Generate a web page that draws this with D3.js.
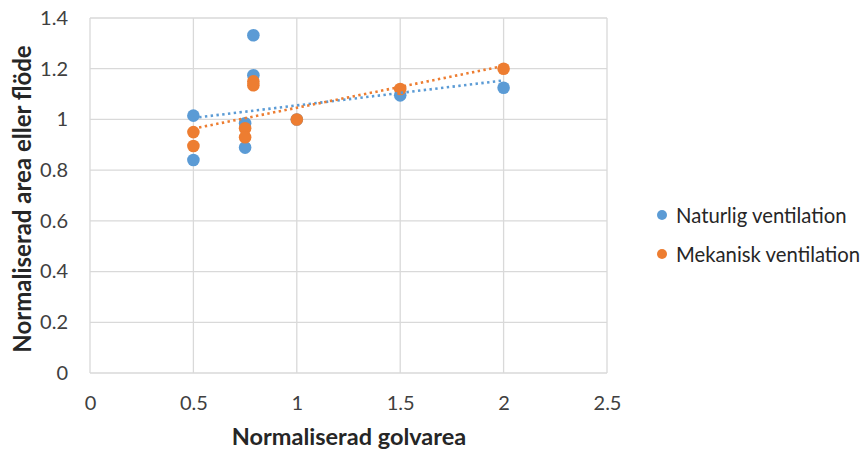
<!DOCTYPE html>
<html>
<head>
<meta charset="utf-8">
<script src="https://cdn.jsdelivr.net/npm/d3@7"></script>
<style>
  html, body { margin: 0; padding: 0; background: #fff; }
  svg { display: block; font-family: Lato, "Open Sans", sans-serif; }
</style>
</head>
<body>
<svg id="chart" width="867" height="450"></svg>
<script>
// Normalised floor area (x) against normalised area or flow (y)
const seriesNames = ["Naturlig ventilation", "Mekanisk ventilation"];
const seriesColors = ["#5B9BD5", "#ED7D31"];

const naturligX = [0.5, 0.5, 0.75, 0.75, 0.79, 0.79, 1, 1.5, 2];
const naturligY = [1.015, 0.84, 0.985, 0.889, 1.332, 1.174, 1.0, 1.095, 1.125];

const mekaniskX = [0.5, 0.5, 0.75, 0.75, 0.79, 0.79, 1, 1.5, 2];
const mekaniskY = [0.95, 0.895, 0.965, 0.93, 1.15, 1.135, 1.0, 1.12, 1.2];

const xTicks = [0, 0.5, 1, 1.5, 2, 2.5];
const yTicks = [0, 0.2, 0.4, 0.6, 0.8, 1, 1.2, 1.4];

const xTitle = "Normaliserad golvarea";
const yTitle = "Normaliserad area eller flöde";

const svg = d3.select("#chart");
const plot = { left: 90, right: 607, top: 18, bottom: 373 };

const x = d3.scaleLinear().domain([0, 2.5]).range([plot.left, plot.right]);
const y = d3.scaleLinear().domain([0, 1.4]).range([plot.bottom, plot.top]);

// Gridlines
const grid = svg.append("g");
grid.selectAll("line.v").data(xTicks).join("line")
  .attr("x1", d => x(d)).attr("x2", d => x(d))
  .attr("y1", plot.top).attr("y2", plot.bottom)
  .attr("stroke", "#D9D9D9").attr("stroke-width", 1.3);
grid.selectAll("line.h").data(yTicks).join("line")
  .attr("x1", plot.left).attr("x2", plot.right)
  .attr("y1", d => y(d)).attr("y2", d => y(d))
  .attr("stroke", "#D9D9D9").attr("stroke-width", 1.3);

// Axes (labels only, no domain or tick marks)
const xAxis = svg.append("g")
  .attr("transform", `translate(0,${plot.bottom})`)
  .call(d3.axisBottom(x).tickValues(xTicks).tickSize(0).tickPadding(23)
        .tickFormat(d => String(d)));
const yAxis = svg.append("g")
  .attr("transform", `translate(${plot.left},0)`)
  .call(d3.axisLeft(y).tickValues(yTicks).tickSize(0).tickPadding(22)
        .tickFormat(d => String(d)));
[xAxis, yAxis].forEach(a => {
  a.select(".domain").remove();
  a.selectAll("text")
    .attr("font-family", "Lato, 'Open Sans', sans-serif")
    .attr("font-size", 20).attr("fill", "#404040");
});

// Axis titles
svg.append("text")
  .attr("x", 349).attr("y", 445)
  .attr("text-anchor", "middle")
  .attr("font-size", 23.5).attr("font-weight", "bold").attr("fill", "#262626")
  .text(xTitle);
svg.append("text")
  .attr("transform", "translate(31,199) rotate(-90)")
  .attr("text-anchor", "middle")
  .attr("font-size", 24).attr("font-weight", "bold").attr("fill", "#262626")
  .text(yTitle);

// Series data
const series = [
  { name: seriesNames[0], color: seriesColors[0], xs: naturligX, ys: naturligY },
  { name: seriesNames[1], color: seriesColors[1], xs: mekaniskX, ys: mekaniskY }
];

// Linear least-squares trendline over the range of each series
function trend(xs, ys) {
  const mx = d3.mean(xs), my = d3.mean(ys);
  let sxy = 0, sxx = 0;
  xs.forEach((xv, i) => { sxy += (xv - mx) * (ys[i] - my); sxx += (xv - mx) ** 2; });
  const b = sxy / sxx, a = my - b * mx;
  const [x0, x1] = d3.extent(xs);
  return [[x0, a + b * x0], [x1, a + b * x1]];
}

const lineGen = d3.line().x(d => x(d[0])).y(d => y(d[1]));

// Markers
series.forEach(s => {
  svg.append("g").selectAll("circle")
    .data(s.xs.map((xv, i) => [xv, s.ys[i]]))
    .join("circle")
    .attr("cx", d => x(d[0])).attr("cy", d => y(d[1]))
    .attr("r", 6.3).attr("fill", s.color);
});

// Dotted trendlines
series.forEach(s => {
  svg.append("path")
    .attr("d", lineGen(trend(s.xs, s.ys)))
    .attr("fill", "none").attr("stroke", s.color)
    .attr("stroke-width", 2.6)
    .attr("stroke-dasharray", "2.4 3.4");
});

// Legend
const legend = svg.append("g");
series.forEach((s, i) => {
  const ly = 215 + i * 39;
  legend.append("circle").attr("cx", 662).attr("cy", ly).attr("r", 5).attr("fill", s.color);
  legend.append("text").attr("x", 676).attr("y", ly + 8)
    .attr("font-size", 20.3).attr("fill", "#262626").text(s.name);
});
</script>
</body>
</html>
